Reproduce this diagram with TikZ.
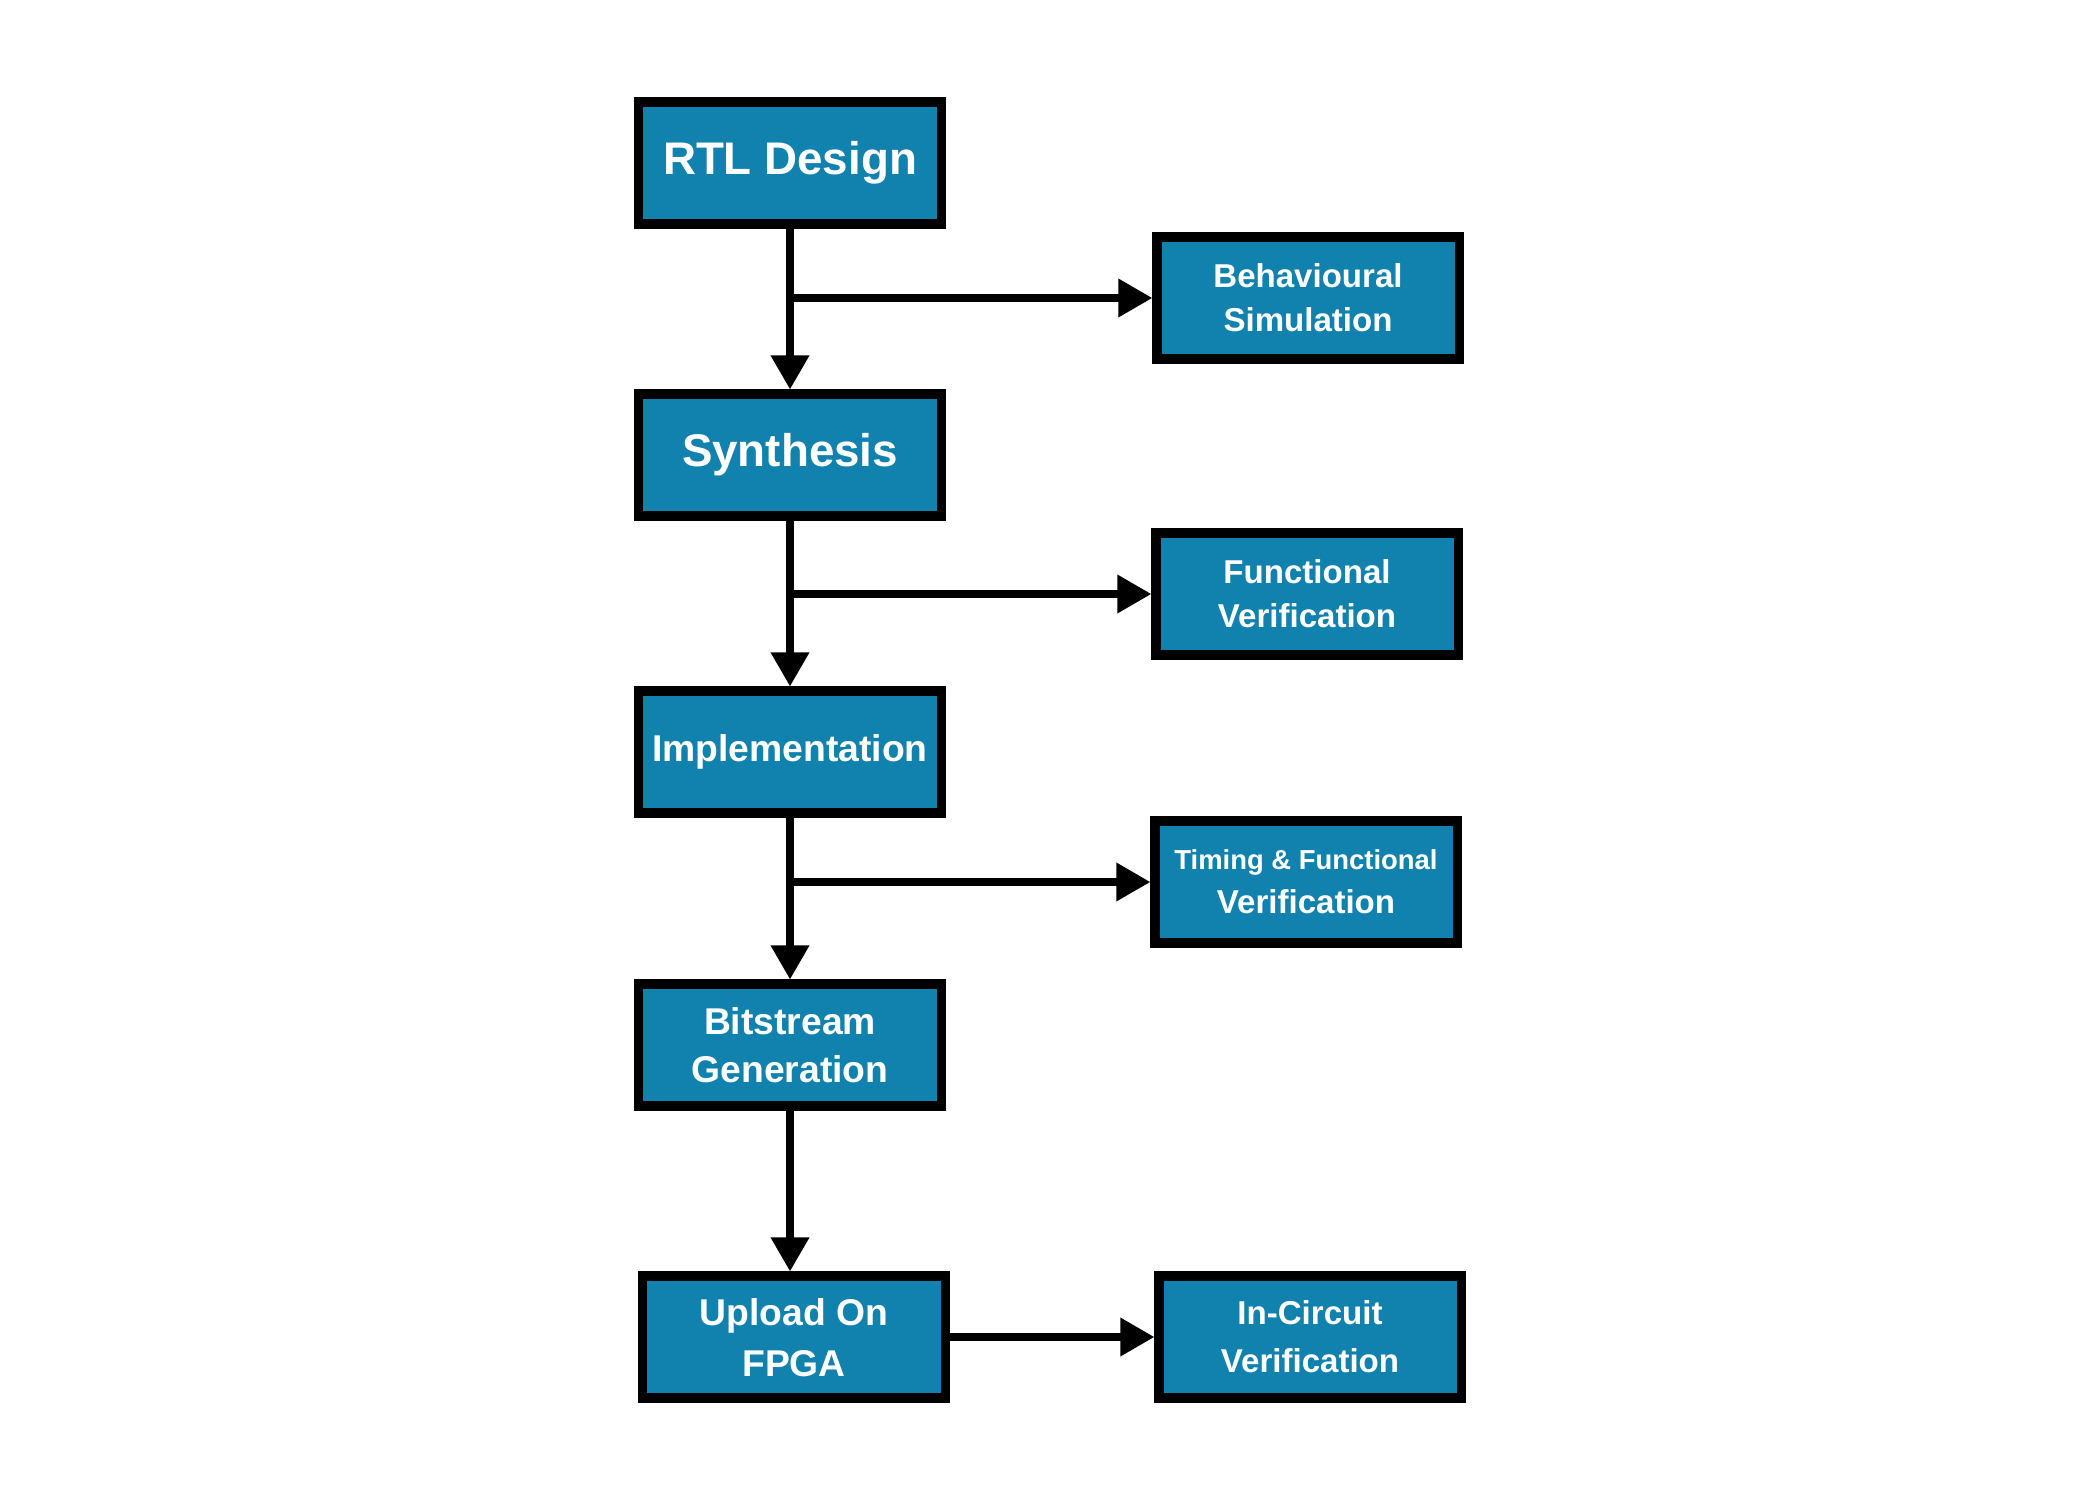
\documentclass[tikz,border=0pt]{standalone}
\usepackage{fontspec}
\setmainfont{Liberation Sans}
\usetikzlibrary{arrows.meta,positioning}
\definecolor{flowblue}{RGB}{17,130,173}
\tikzset{
  flowbox/.style={draw=black, line width=2.6pt, fill=flowblue, text=white,
    align=center, minimum width=3.02cm, minimum height=1.22cm, inner sep=2pt},
  flowline/.style={line width=2pt, -{Triangle[length=0.34cm,width=0.37cm]}}
}
\newcommand{\bigf}{\bfseries\fontsize{13}{16}\selectfont}
\newcommand{\midf}{\bfseries\fontsize{10.6}{13.5}\selectfont}
\newcommand{\smlf}{\bfseries\fontsize{9.4}{12.6}\selectfont}

\begin{document}
\begin{tikzpicture}[x=0.01cm,y=-0.01cm]
\useasboundingbox (0,0) rectangle (2100,1500);
% main flow
\node[flowbox,font=\bigf] (rtl) at (790,163) {RTL Design};
\node[flowbox,font=\bigf] (syn) at (790,455) {Synthesis};
\node[flowbox,font=\midf] (imp) at (790,752) {Implementation};
\node[flowbox,font=\midf] (bit) at (790,1045) {Bitstream\\Generation};
\node[flowbox,font=\midf,text depth=0pt] (upl) at (794,1337)
  {Upload On\\[1pt]FPGA};
% verification steps
\node[flowbox,font=\smlf] (beh) at (1308,298) {Behavioural\\Simulation};
\node[flowbox,font=\smlf] (fun) at (1307,594) {Functional\\Verification};
\node[flowbox,font=\smlf] (tim) at (1306,882)
  {{\fontsize{7.8}{10}\selectfont Timing \& Functional}\\Verification};
\node[flowbox,font=\smlf] (inc) at (1310,1337) {In-Circuit\\[1pt]Verification};
% branch points
\coordinate (j1) at (rtl.south |- beh.west);
\coordinate (j2) at (syn.south |- fun.west);
\coordinate (j3) at (imp.south |- tim.west);
% arrows
\draw[flowline] (rtl) -- (syn);
\draw[flowline] (syn) -- (imp);
\draw[flowline] (imp) -- (bit);
\draw[flowline] (bit.south) -- (bit.south |- upl.north);
\draw[flowline] (j1) -- (beh);
\draw[flowline] (j2) -- (fun);
\draw[flowline] (j3) -- (tim);
\draw[flowline] (upl) -- (inc);
\end{tikzpicture}
\end{document}
